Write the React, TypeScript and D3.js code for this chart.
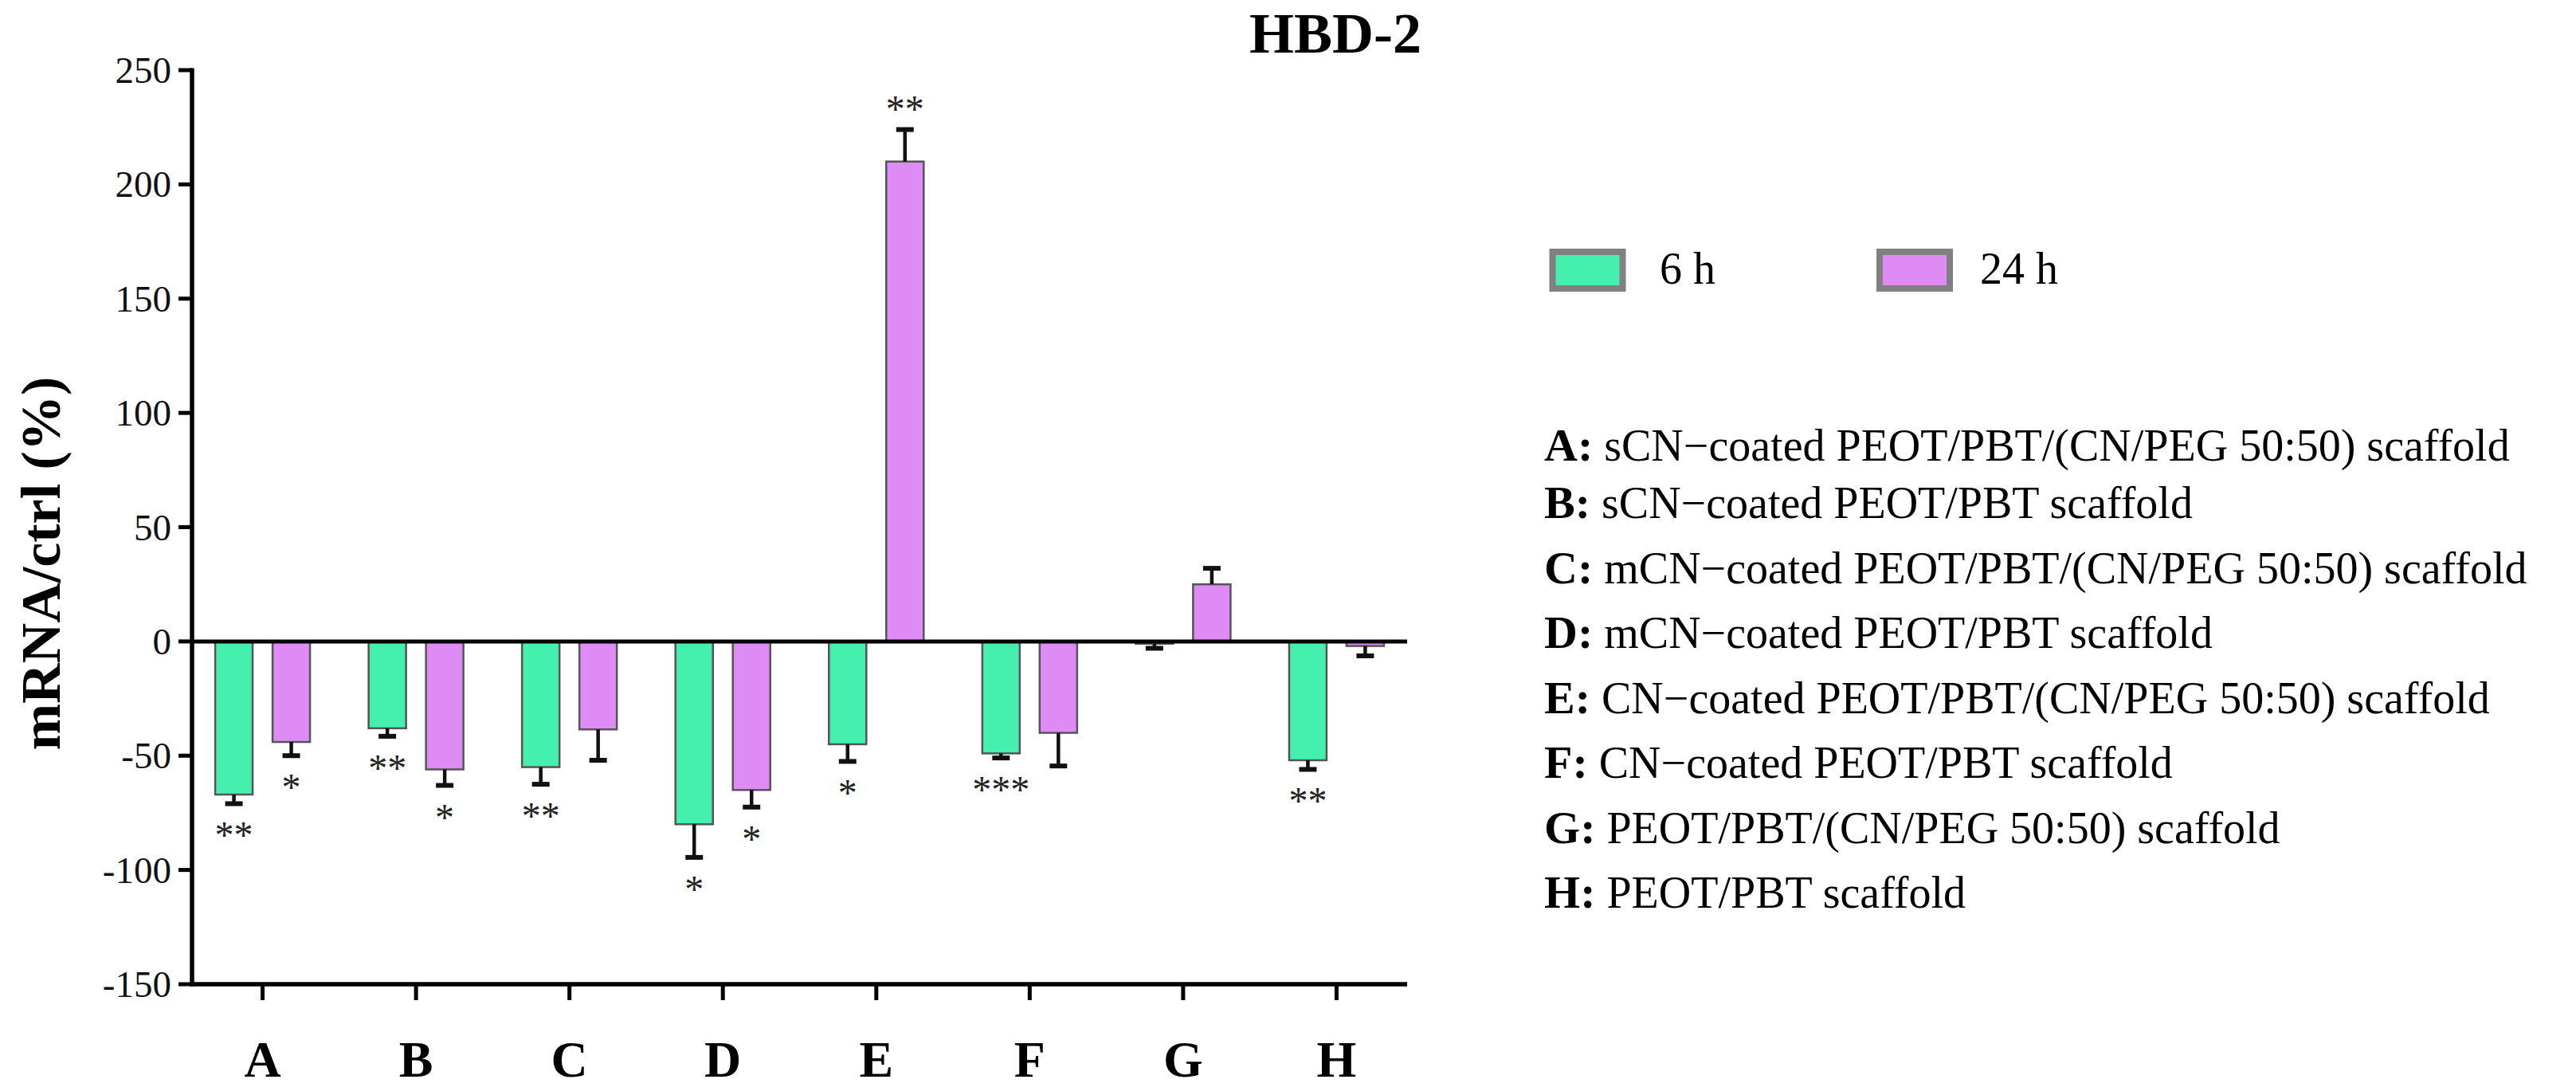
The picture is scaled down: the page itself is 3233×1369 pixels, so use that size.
import React from "react";
import * as d3 from "d3";

const categories = ["A", "B", "C", "D", "E", "F", "G", "H"];
const seriesNames = ["6 h", "24 h"];
const values6h = [-67, -38, -55, -80, -45, -49, -1, -52];
const errors6h = [4, 3.5, 7.5, 14.5, 7.5, 2, 2, 4];
const values24h = [-44, -56, -38.5, -65, 210, -40, 25, -2];
const errors24h = [6, 7, 13.5, 7.5, 14, 14.5, 7, 4.3];
const stars6h = ["**", "**", "**", "*", "*", "***", "", "**"];
const stars24h = ["*", "*", "", "*", "**", "", "", ""];
const yTicks = [-150, -100, -50, 0, 50, 100, 150, 200, 250];
const descriptions = [
  "sCN\u2212coated PEOT/PBT/(CN/PEG 50:50) scaffold",
  "sCN\u2212coated PEOT/PBT scaffold",
  "mCN\u2212coated PEOT/PBT/(CN/PEG 50:50) scaffold",
  "mCN\u2212coated PEOT/PBT scaffold",
  "CN\u2212coated PEOT/PBT/(CN/PEG 50:50) scaffold",
  "CN\u2212coated PEOT/PBT scaffold",
  "PEOT/PBT/(CN/PEG 50:50) scaffold",
  "PEOT/PBT scaffold",
];
const title = "HBD-2";
const yLabel = "mRNA/ctrl (%)";

const W = 3233;
const H = 1369;
const colors = ["#45F0AE", "#DF8BF5"];
const serif = "'Liberation Serif', 'Times New Roman', serif";

export default function App() {
  const x0 = 241;
  const x1 = 1766;
  const y = d3.scaleLinear().domain([-150, 250]).range([1235, 88]);
  const xg = d3.scalePoint<string>().domain(categories).range([x0, x1]).padding(0.46);
  const xs = d3.scaleBand<string>().domain(seriesNames).range([-59.5, 59.5]).paddingInner(0.347);
  const bw = xs.bandwidth();
  const allSeries = [
    { name: seriesNames[0], vals: values6h, errs: errors6h, stars: stars6h, color: colors[0] },
    { name: seriesNames[1], vals: values24h, errs: errors24h, stars: stars24h, color: colors[1] },
  ];
  const y0 = y(0);
  const lineYs = categories.map((_, i) => (i === 0 ? 578 : 650 + (i - 1) * 81.5));

  return (
    <svg
      width={W}
      height={H}
      viewBox={`0 0 ${W} ${H}`}
      style={{ position: "absolute", left: 0, top: 0, background: "#fff" }}
      fontFamily={serif}
    >
      <rect x={0} y={0} width={W} height={H} fill="#fff" />
      {/* bars */}
      {allSeries.map((s) =>
        categories.map((c, i) => {
          const cx = (xg(c) as number) + (xs(s.name) as number) + bw / 2;
          const v = s.vals[i];
          const yv = y(v);
          const top = Math.min(yv, y0);
          const h = Math.abs(yv - y0);
          const errEnd = y(v + (v >= 0 ? s.errs[i] : -s.errs[i]));
          const dir = v >= 0 ? -1 : 1;
          const starCenter = errEnd + dir * 33;
          return (
            <g key={s.name + c}>
              <rect
                x={cx - bw / 2}
                y={top}
                width={bw}
                height={h}
                fill={s.color}
                stroke="#555"
                strokeWidth={2.5}
              />
              <line x1={cx} x2={cx} y1={yv} y2={errEnd} stroke="#111" strokeWidth={4.5} />
              <line x1={cx - 11} x2={cx + 11} y1={errEnd} y2={errEnd} stroke="#111" strokeWidth={6} />
              {s.stars[i] && (
                <text
                  x={cx}
                  y={starCenter + 23}
                  textAnchor="middle"
                  fontSize={48}
                  fill="#222"
                >
                  {s.stars[i]}
                </text>
              )}
            </g>
          );
        })
      )}
      {/* zero line */}
      <line x1={x0} x2={x1} y1={y0} y2={y0} stroke="#000" strokeWidth={5} />
      {/* axes */}
      <line x1={x0} x2={x0} y1={y(250) - 2.5} y2={y(-150) + 2.5} stroke="#000" strokeWidth={5.5} />
      <line x1={x0 - 2.5} x2={x1} y1={y(-150)} y2={y(-150)} stroke="#000" strokeWidth={5.5} />
      {yTicks.map((t) => (
        <g key={t}>
          <line x1={x0 - 17} x2={x0} y1={y(t)} y2={y(t)} stroke="#000" strokeWidth={5} />
          <text x={215} y={y(t) + 16} textAnchor="end" fontSize={47} fill="#111">
            {t < 0 ? "-" + Math.abs(t) : String(t)}
          </text>
        </g>
      ))}
      {categories.map((c) => (
        <g key={c}>
          <line
            x1={xg(c) as number}
            x2={xg(c) as number}
            y1={y(-150)}
            y2={y(-150) + 20}
            stroke="#000"
            strokeWidth={5}
          />
          <text
            x={xg(c) as number}
            y={1351}
            textAnchor="middle"
            fontSize={64}
            fontWeight="bold"
            fill="#000"
          >
            {c}
          </text>
        </g>
      ))}
      {/* y label */}
      <text
        transform={`translate(75, 707) rotate(-90)`}
        textAnchor="middle"
        fontSize={70}
        fontWeight="bold"
        fill="#000"
      >
        {yLabel}
      </text>
      {/* title */}
      <text x={1568} y={66} fontSize={72} fontWeight="bold" fill="#000">
        {title}
      </text>
      {/* legend */}
      {allSeries.map((s, i) => {
        const bx = i === 0 ? 1948.5 : 2359;
        const tx = i === 0 ? 2083 : 2485;
        return (
          <g key={"leg" + s.name}>
            <rect x={bx} y={316} width={88} height={46} fill={s.color} stroke="#808080" strokeWidth={8} />
            <text x={tx} y={356} fontSize={56} fill="#000">
              {s.name}
            </text>
          </g>
        );
      })}
      {/* descriptions */}
      {categories.map((c, i) => (
        <text key={"d" + c} x={1938} y={lineYs[i]} fill="#000">
          <tspan fontWeight="bold" fontSize={58}>
            {c}:
          </tspan>
          <tspan fontSize={56} dx={14}>
            {descriptions[i]}
          </tspan>
        </text>
      ))}
    </svg>
  );
}
